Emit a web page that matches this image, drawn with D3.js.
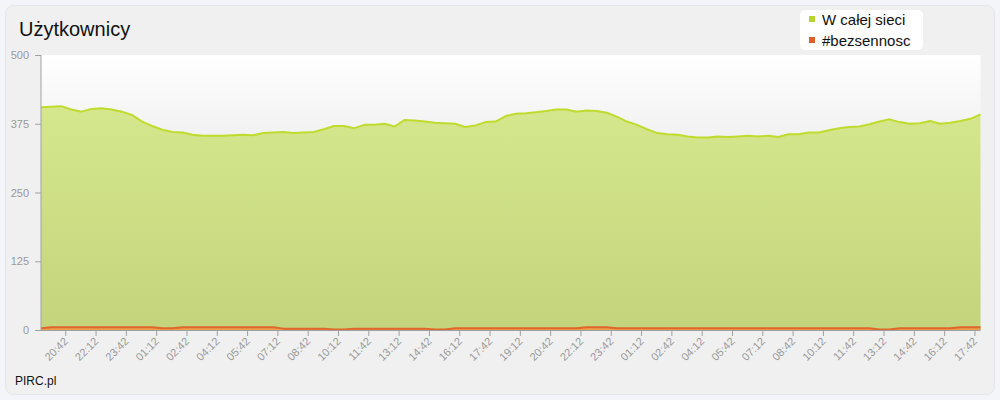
<!DOCTYPE html>
<html><head><meta charset="utf-8">
<script src="https://cdn.jsdelivr.net/npm/d3@7"></script>
<style>
body{margin:0;background:#f4f5f9;}
svg{display:block;font-family:"Liberation Sans",Arial,sans-serif;}
</style>
</head><body>
<svg id="c" width="1000" height="400"></svg>
<script>
const title = "Użytkownicy";
const seriesNames = ["W całej sieci", "#bezsennosc"];
const startHour = 19, startMinute = 30, stepMinutes = 30;
const allUsers = [405,406,407,401,397,402,403,401,397,391,379,371,364,360,359,355,353,353,353,354,
  355,354,358,359,360,358,359,360,365,371,371,367,373,373,375,370,382,381,379,377,
  376,375,369,372,378,379,389,393,394,396,398,401,401,397,399,398,395,388,379,373,
  365,358,356,355,352,350,350,352,351,352,353,352,353,351,356,356,359,359,363,367,
  369,370,374,379,383,378,375,376,380,375,377,380,384,392];
const channelUsers = [3,5,5,5,5,5,5,5,5,5,5,5,3,3,5,5,5,5,5,5,
  5,5,5,5,2.5,2.5,2.5,2.5,2.5,1,1,2.5,2.5,2.5,2.5,2.5,2.5,2.5,2.5,1,
  1,3,3,3,3,3,3,3,3,3,3,3,3,3,5,5,5,3,3,3,
  3,3,3,3,3,3,3,3,3,3,3,3,3,3,3,3,3,3,3,3,
  3,3,3,1,1,3,3,3,3,3,3,5,5,5];
const yTicks = [0, 125, 250, 375, 500];
const xTickLabels = ["20:42","22:12","23:42","01:12","02:42","04:12","05:42","07:12","08:42","10:12",
  "11:42","13:12","14:42","16:12","17:42","19:12","20:42","22:12","23:42","01:12",
  "02:42","04:12","05:42","07:12","08:42","10:12","11:42","13:12","14:42","16:12","17:42"];
const credit = "PIRC.pl";

const svg = d3.select("#c");
const defs = svg.append("defs");

// outer box
svg.append("rect").attr("x",5.5).attr("y",5.5).attr("width",989).attr("height",389)
  .attr("rx",8).attr("fill","#f0f0f0").attr("stroke","#e3e5ea");

const m = {left:41, right:980.5, top:55, bottom:330};

const t0 = new Date(2020,0,1,startHour,startMinute);
const dates = allUsers.map((_,i)=> new Date(t0.getTime() + i*stepMinutes*60000));
const x = d3.scaleTime().domain([dates[0], dates[dates.length-1]]).range([m.left, m.right]);
const y = d3.scaleLinear().domain([0,500]).range([m.bottom, m.top]);

// tick dates from labels
let day = 0, prev = -1;
const tickDates = xTickLabels.map(l=>{
  const [h,mi] = l.split(":").map(Number);
  const mins = h*60+mi;
  if (mins < prev) day++;
  prev = mins;
  return new Date(2020,0,1+day,h,mi);
});

// plot bg gradient
const pg = defs.append("linearGradient").attr("id","pbg").attr("x1",0).attr("y1",0).attr("x2",0).attr("y2",1);
pg.append("stop").attr("offset","0%").attr("stop-color","#ffffff");
pg.append("stop").attr("offset","35%").attr("stop-color","#efefef");
pg.append("stop").attr("offset","100%").attr("stop-color","#e6e6e6");
svg.append("rect").attr("x",m.left).attr("y",m.top).attr("width",m.right-m.left).attr("height",m.bottom-m.top)
  .attr("fill","url(#pbg)");

const gg = defs.append("linearGradient").attr("id","gfill").attr("gradientUnits","userSpaceOnUse")
  .attr("x1",0).attr("y1",100).attr("x2",0).attr("y2",330);
gg.append("stop").attr("offset","0%").attr("stop-color","#d6e88e");
gg.append("stop").attr("offset","100%").attr("stop-color","#c3d47c");

const areaA = d3.area().x((d,i)=>x(dates[i])).y0(y(0)).y1(d=>y(d));
const lineA = d3.line().x((d,i)=>x(dates[i])).y(d=>y(d));

svg.append("path").datum(allUsers).attr("d",areaA).attr("fill","url(#gfill)");
svg.append("path").datum(allUsers).attr("d",lineA).attr("fill","none")
  .attr("stroke","#bfdc2e").attr("stroke-width",2).attr("stroke-linejoin","round");

svg.append("path").datum(channelUsers).attr("d",areaA).attr("fill","#e8a050");
svg.append("path").datum(channelUsers).attr("d",lineA).attr("fill","none")
  .attr("stroke","#e0662a").attr("stroke-width",2).attr("stroke-linejoin","round");

// axes
const yAxis = d3.axisLeft(y).tickValues(yTicks).tickSize(6).tickPadding(6);
const gy = svg.append("g").attr("transform",`translate(${m.left},0)`).call(yAxis);
gy.select(".domain").attr("stroke","#a0a0a0").attr("d",`M0,${m.top}V${m.bottom}`);
gy.selectAll(".tick line").attr("stroke","#a0a0a0");
gy.selectAll(".tick text").attr("fill","#999").style("font-size","11px").style("font-family","Liberation Sans, Arial, sans-serif");

const xAxis = d3.axisBottom(x).tickValues(tickDates).tickSize(6).tickFormat((d,i)=>xTickLabels[i]);
const gx = svg.append("g").attr("transform",`translate(0,${m.bottom})`).call(xAxis);
gx.select(".domain").attr("stroke","#a0a0a0").attr("d",`M${m.left},0.5H${m.right}`);
gx.selectAll(".tick line").attr("stroke","#a0a0a0");
gx.selectAll(".tick text").attr("fill","#999").style("font-size","11px")
  .style("font-family","Liberation Sans, Arial, sans-serif")
  .attr("text-anchor","end").attr("dy",null).attr("y",0)
  .attr("transform","translate(3,12) rotate(-45)");

// title
svg.append("text").attr("x",19).attr("y",36).text(title)
  .style("font-size","20px").attr("fill","#111");

// legend
svg.append("rect").attr("x",800).attr("y",10).attr("width",123).attr("height",40).attr("rx",5).attr("fill","#ffffff");
const legColors = ["#b5d531","#e0602a"];
seriesNames.forEach((n,i)=>{
  svg.append("rect").attr("x",809).attr("y",16+i*21).attr("width",6).attr("height",6).attr("fill",legColors[i]);
  svg.append("text").attr("x",822).attr("y",25+i*21).text(n).style("font-size","15px").attr("fill","#111");
});

svg.append("text").attr("x",15).attr("y",385).text(credit).style("font-size","12px").attr("fill","#111");
</script>
</body></html>
